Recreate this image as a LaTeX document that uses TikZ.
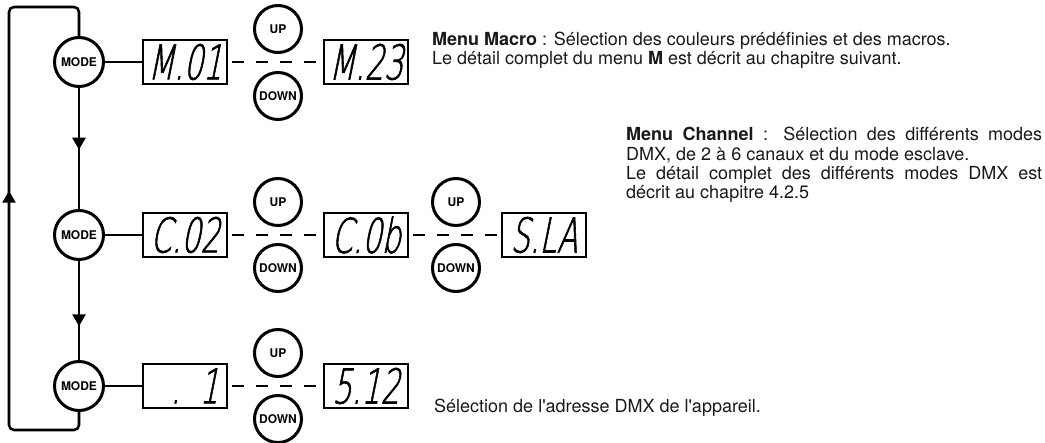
\documentclass[tikz,border=0pt]{standalone}
\usepackage{fontspec}
\setmainfont{TeX Gyre Heros}
\newfontfamily\segfont[FakeSlant=0.2,FakeStretch=0.63,FakeBold=1.2]{DejaVu Sans ExtraLight}
\usetikzlibrary{arrows.meta,decorations.markings,positioning}

\tikzset{
  btn/.style={circle, draw, line width=3pt, inner sep=0pt, font=\bfseries\fontsize{12}{12}\selectfont},
  modebtn/.style={btn, minimum size=49pt},
  updown/.style={btn, minimum size=47pt},
  disp/.style={draw, line width=1.6pt, minimum width=84pt, minimum height=44pt, inner sep=0pt, font=\segfont\fontsize{48}{48}\selectfont},
  link/.style={line width=2.6pt},
  dashlink/.style={line width=2.2pt, dash pattern=on 12pt off 12pt, shorten <=4pt, shorten >=4pt},
  midarrow/.style={decoration={markings, mark=at position #1 with {\arrow{Triangle[width=13pt,length=12pt]}}}, postaction={decorate}},
  desc/.style={inner sep=0pt, align=left, text=black!90, font=\fontsize{18}{19.4}\selectfont}
}

\begin{document}
\begin{tikzpicture}[x=1pt, y=-1pt]
  \useasboundingbox (0,0) rectangle (1045,443);
  % mode buttons
  \node[modebtn] (mode1) at (79,62) {MODE};
  \node[modebtn] (mode2) at (79,235) {MODE};
  \node[modebtn] (mode3) at (79,386) {MODE};
  % row 1 : macro
  \node[disp] (m01) at (185,62) {M.01};
  \node[disp] (m23) at (366,62) {M.23};
  \node[updown] (up1) at (278,29) {UP};
  \node[updown] (down1) at (278,96) {DOWN};
  % row 2 : channel
  \node[disp] (c02) at (185,235) {C.02};
  \node[disp] (c0b) at (366,235) {C.0b};
  \node[disp] (sla) at (544,235) {S.LA};
  \node[updown] (up2) at (278,202) {UP};
  \node[updown] (down2) at (278,268) {DOWN};
  \node[updown] (up3) at (456,202) {UP};
  \node[updown] (down3) at (456,268) {DOWN};
  % row 3 : address
  \node[disp] (a001) at (185,386) {\phantom{5}.\phantom{0}1};
  \node[disp] (a512) at (366,386) {5.12};
  \node[updown] (up4) at (278,353) {UP};
  \node[updown] (down4) at (278,419) {DOWN};
  % loop back
  \coordinate (lb) at (9,430);
  \coordinate (lt) at (9,7);
  \draw[link, rounded corners=5pt, midarrow=0.537] (mode3.south) |- (lb) -- (lt) -| (mode1.north);
  % mode to mode
  \draw[link, midarrow=0.51] (mode1) -- (mode2);
  \draw[link, midarrow=0.66] (mode2) -- (mode3);
  % mode to display
  \draw[link] (mode1) -- (m01);
  \draw[link] (mode2) -- (c02);
  \draw[link] (mode3) -- (a001);
  % up / down ranges
  \draw[dashlink] (m01) -- (m23);
  \draw[dashlink] (c02) -- (c0b);
  \draw[dashlink] (c0b) -- (sla);
  \draw[dashlink] (a001) -- (a512);
  % texts
  \node[desc, anchor=base west] (t1) at (432,65) {\textbf{Menu Macro} : Sélection des couleurs prédéfinies et des macros.\\Le détail complet du menu \textbf{M} est décrit au chapitre suivant.};
  \node[desc, anchor=base west] (t2) at (626,199) {\makebox[416pt][s]{\textbf{Menu Channel} : Sélection des différents modes}\\DMX, de 2 à 6 canaux et du mode esclave.\\\makebox[416pt][s]{Le détail complet des différents modes DMX est}\\décrit au chapitre 4.2.5};
  \node[desc, anchor=base west] (t3) at (434,413) {Sélection de l\textquotesingle adresse DMX de l\textquotesingle appareil.};
\end{tikzpicture}
\end{document}
